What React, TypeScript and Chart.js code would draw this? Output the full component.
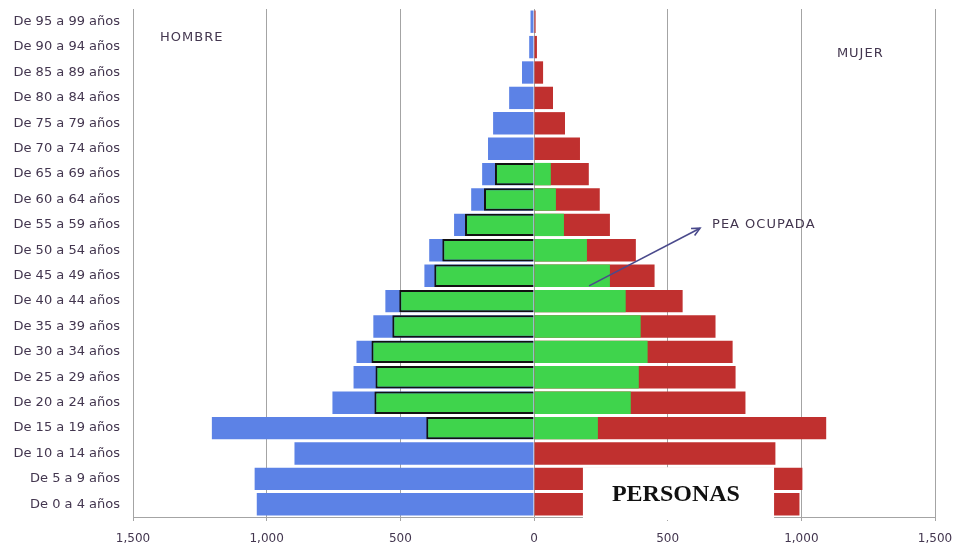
import { useEffect, useRef } from "react";
import { Chart, registerables } from "chart.js";

Chart.register(...registerables);

// Age groups, listed from the oldest (top row) to the youngest (bottom row)
const ageGroups = [
  "De 95 a 99 años",
  "De 90 a 94 años",
  "De 85 a 89 años",
  "De 80 a 84 años",
  "De 75 a 79 años",
  "De 70 a 74 años",
  "De 65 a 69 años",
  "De 60 a 64 años",
  "De 55 a 59 años",
  "De 50 a 54 años",
  "De 45 a 49 años",
  "De 40 a 44 años",
  "De 35 a 39 años",
  "De 30 a 34 años",
  "De 25 a 29 años",
  "De 20 a 24 años",
  "De 15 a 19 años",
  "De 10 a 14 años",
  "De 5 a 9 años",
  "De 0 a 4 años",
];

// Total population (persons)
const menTotal = [13, 18, 45, 93, 153, 172, 194, 235, 299, 392, 410, 556, 601, 664, 675, 754, 1205, 896, 1045, 1037];
const womenTotal = [6, 11, 34, 71, 116, 172, 205, 246, 284, 381, 451, 556, 679, 743, 754, 791, 1093, 903, 1004, 993];

// Employed economically active population (PEA ocupada)
const menEmployed = [null, null, null, null, null, null, 146, 187, 258, 343, 373, 504, 530, 608, 593, 597, 403, null, null, null];
const womenEmployed = [null, null, null, null, null, null, 63, 82, 112, 198, 284, 343, 399, 425, 392, 362, 239, null, null, null];

const xMin = -1500;
const xMax = 1500;
const xStep = 500;

const BLUE = "#5c82e6";
const GREEN = "#3fd44c";
const RED = "#c0302f";
const TEXT = "#43364f";

const annotations = {
  id: "pyramidAnnotations",
  afterDraw(chart: any) {
    const { ctx, chartArea } = chart;
    const x = chart.scales.x;
    const y = chart.scales.y;
    ctx.save();

    // Side captions
    ctx.fillStyle = TEXT;
    ctx.font = "13px 'DejaVu Sans', sans-serif";
    (ctx as any).letterSpacing = "1px";
    ctx.textAlign = "left";
    ctx.textBaseline = "middle";
    ctx.fillText("HOMBRE", x.getPixelForValue(-1399), y.getPixelForValue(0.63));
    ctx.fillText("MUJER", x.getPixelForValue(1133), y.getPixelForValue(1.26));
    ctx.fillText("PEA OCUPADA", x.getPixelForValue(666), y.getPixelForValue(8.0));

    // Arrow pointing to the employed population caption
    const x0 = x.getPixelForValue(206);
    const y0 = y.getPixelForValue(10.4);
    const x1 = x.getPixelForValue(621);
    const y1 = y.getPixelForValue(8.13);
    ctx.strokeStyle = "#4a4a8c";
    ctx.lineWidth = 1.6;
    ctx.beginPath();
    ctx.moveTo(x0, y0);
    ctx.lineTo(x1, y1);
    ctx.stroke();
    const ang = Math.atan2(y1 - y0, x1 - x0);
    const head = 9;
    ctx.beginPath();
    ctx.moveTo(x1 - head * Math.cos(ang - 0.45), y1 - head * Math.sin(ang - 0.45));
    ctx.lineTo(x1, y1);
    ctx.lineTo(x1 - head * Math.cos(ang + 0.45), y1 - head * Math.sin(ang + 0.45));
    ctx.stroke();

    // "PERSONAS" caption on a white box over the lowest rows
    const bl = x.getPixelForValue(183);
    const br = x.getPixelForValue(898);
    const bt = y.getPixelForValue(17.5) + 1;
    const bb = chartArea.bottom + 3;
    ctx.fillStyle = "#ffffff";
    ctx.fillRect(bl, bt, br - bl, bb - bt);
    (ctx as any).letterSpacing = "0px";
    ctx.fillStyle = "#111111";
    ctx.font = "bold 24px 'Liberation Serif', serif";
    ctx.textAlign = "center";
    ctx.fillText("PERSONAS", x.getPixelForValue(531), y.getPixelForValue(18.62));

    ctx.restore();
  },
};

export default function App() {
  const canvasRef = useRef<HTMLCanvasElement | null>(null);

  useEffect(() => {
    const canvas = canvasRef.current;
    if (!canvas) return;

    const chart = new Chart(canvas, {
      type: "bar",
      data: {
        labels: ageGroups,
        datasets: [
          {
            label: "PEA ocupada hombres",
            data: menEmployed.map((v) => (v == null ? null : -v)),
            backgroundColor: GREEN,
            borderColor: "#121212",
            borderWidth: 2,
            order: 1,
          },
          {
            label: "PEA ocupada mujeres",
            data: womenEmployed,
            backgroundColor: GREEN,
            borderWidth: 0,
            order: 1,
          },
          {
            label: "Hombres",
            data: menTotal.map((v) => -v),
            backgroundColor: BLUE,
            borderWidth: 0,
            order: 2,
          },
          {
            label: "Mujeres",
            data: womenTotal,
            backgroundColor: RED,
            borderWidth: 0,
            order: 2,
          },
        ] as any,
      },
      options: {
        indexAxis: "y",
        responsive: false,
        animation: false,
        layout: { padding: { top: 9, right: 20, left: 0, bottom: 0 } },
        datasets: {
          bar: { grouped: false, barPercentage: 0.88, categoryPercentage: 1 },
        } as any,
        plugins: {
          legend: { display: false },
          tooltip: { enabled: false },
        },
        scales: {
          x: {
            type: "linear",
            min: xMin,
            max: xMax,
            afterFit: (s: any) => {
              s.height = 29;
              s.paddingLeft = 0;
              s.paddingRight = 0;
            },
            ticks: {
              stepSize: xStep,
              color: TEXT,
              font: { family: "'DejaVu Sans', sans-serif", size: 12 },
              padding: 11,
              callback: (v: any) => Math.abs(Number(v)).toLocaleString("en-US"),
            },
            grid: { color: "#a4a4a4", lineWidth: 1, tickLength: 4 },
            border: { color: "#a4a4a4" },
          },
          y: {
            type: "category",
            afterFit: (s: any) => {
              s.width = 133;
              s.paddingTop = 0;
              s.paddingBottom = 0;
            },
            ticks: {
              autoSkip: false,
              color: TEXT,
              font: { family: "'DejaVu Sans', sans-serif", size: 13 },
              padding: 13,
            },
            grid: { display: false, drawTicks: false },
            border: { display: false },
          },
        },
      } as any,
      plugins: [annotations],
    });

    return () => chart.destroy();
  }, []);

  return (
    <div style={{ position: "fixed", left: 0, top: 0, width: 955, height: 546, background: "#fff" }}>
      <canvas ref={canvasRef} width={955} height={546} style={{ display: "block" }} />
    </div>
  );
}
